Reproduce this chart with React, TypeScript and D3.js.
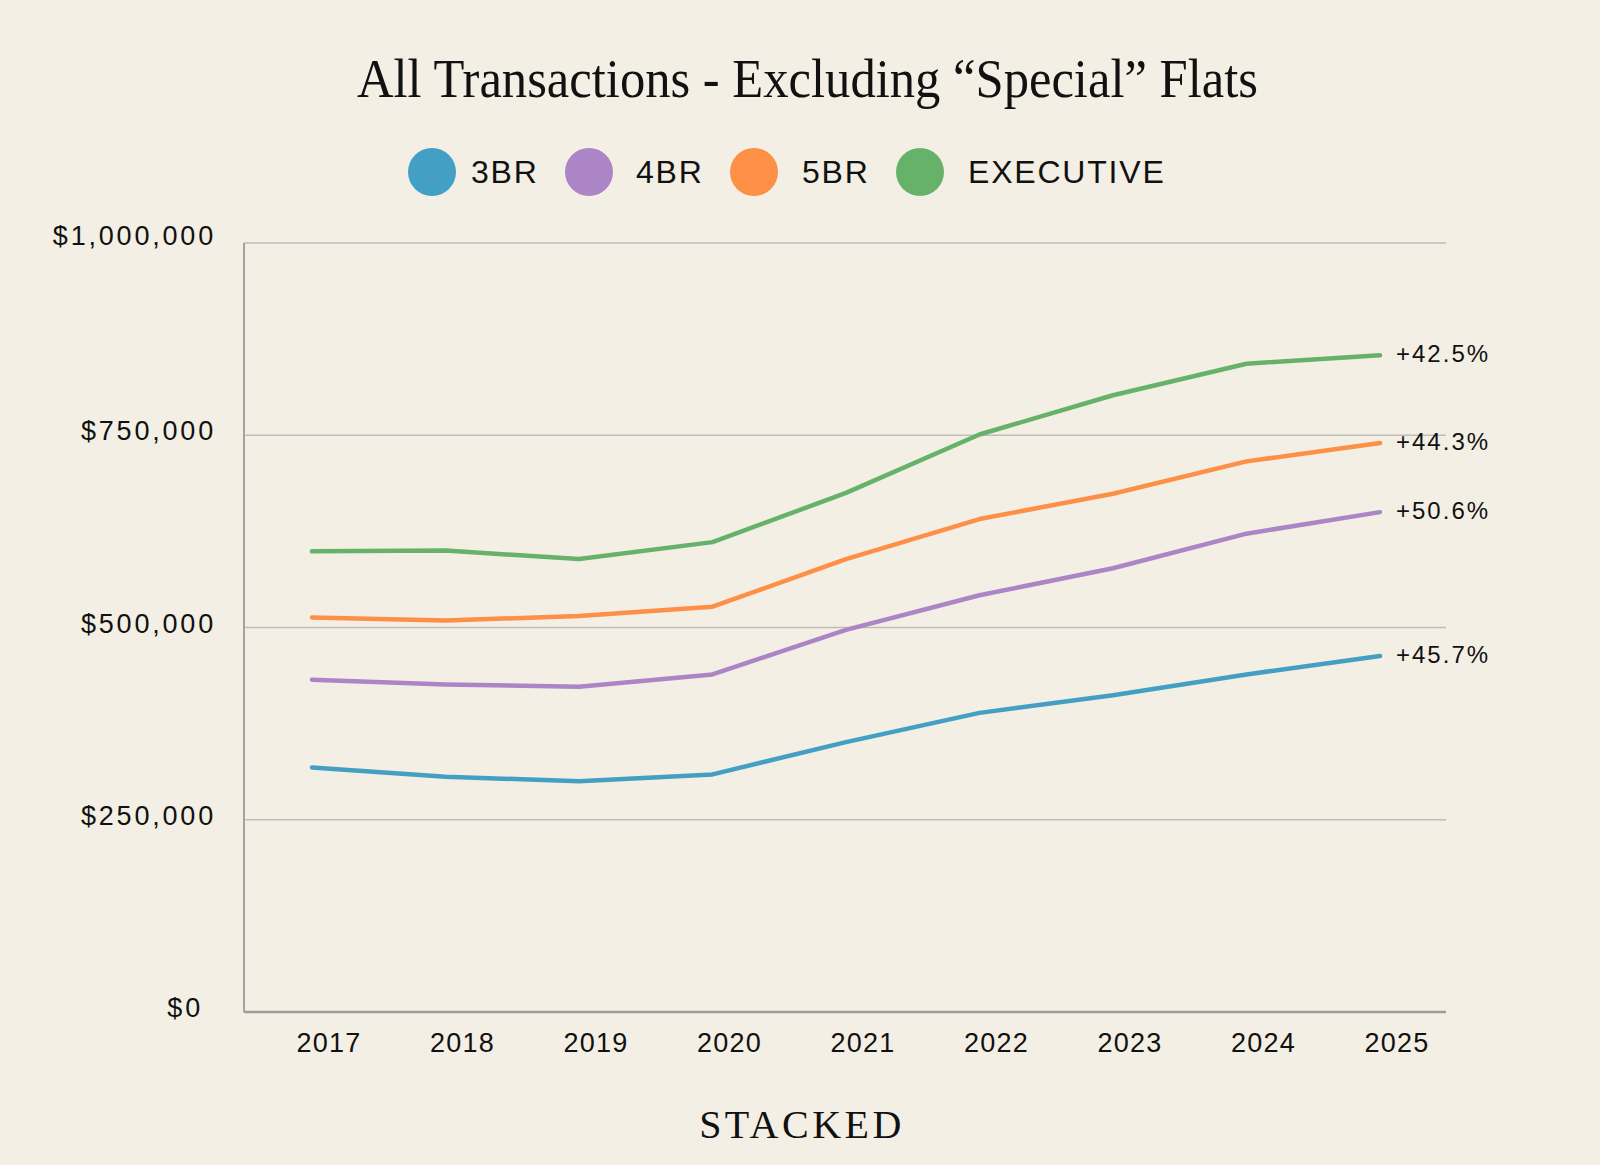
import React from "react";
import * as d3 from "d3";

const years = ["2017", "2018", "2019", "2020", "2021", "2022", "2023", "2024", "2025"];
const series3BR = [318000, 306000, 300000, 309000, 351000, 389000, 412000, 439000, 463000];
const series4BR = [432000, 426000, 423000, 439000, 497000, 542000, 577000, 622000, 650000];
const series5BR = [513000, 509000, 515000, 527000, 589000, 641000, 674000, 716000, 740000];
const seriesExec = [599000, 600000, 589000, 611000, 675000, 751000, 802000, 843000, 854000];
const seriesNames = ["3BR", "4BR", "5BR", "EXECUTIVE"];
const changeLabels = ["+45.7%", "+50.6%", "+44.3%", "+42.5%"];
const yTicks = [0, 250000, 500000, 750000, 1000000];
const colors = ["#43A0C4", "#AB85C5", "#FD8F47", "#66B26A"];

const W = 1600;
const H = 1165;
const left = 244;
const right = 1446;
const top = 243;
const bottom = 1012;
const legendCircleX = [432, 589, 754, 920];
const legendTextX = [471, 636, 802, 968];

export default function App() {
  const allSeries = [series3BR, series4BR, series5BR, seriesExec];
  const x = d3.scalePoint<string>().domain(years).range([312, 1380]);
  const y = d3.scaleLinear().domain([0, 1000000]).range([bottom, top]);
  const line = d3
    .line<number>()
    .x((_, i) => x(years[i]) as number)
    .y((d) => y(d));
  const fmt = (v: number) => "$" + d3.format(",")(v);
  const sans = "'Liberation Sans', Arial, sans-serif";
  const serif = "'Liberation Serif', 'DejaVu Serif', serif";

  return (
    <div style={{ position: "absolute", left: 0, top: 0 }}>
      <svg width={W} height={H} viewBox={`0 0 ${W} ${H}`} style={{ display: "block" }}>
        <rect x={0} y={0} width={W} height={H} fill="#F4EFE4" />
        <text
          x={357}
          y={97}
          fontFamily={serif}
          fontSize={55}
          fill="#111"
          textLength={901}
          lengthAdjust="spacingAndGlyphs"
        >
          All Transactions - Excluding “Special” Flats
        </text>
        {seriesNames.map((n, i) => (
          <g key={n}>
            <circle cx={legendCircleX[i]} cy={172} r={24} fill={colors[i]} />
            <text
              x={legendTextX[i]}
              y={183}
              fontFamily={sans}
              fontSize={32}
              letterSpacing={1.8}
              fill="#111"
            >
              {n}
            </text>
          </g>
        ))}
        {yTicks.map((t) => (
          <g key={t}>
            {t > 0 && (
              <line x1={left} x2={right} y1={y(t)} y2={y(t)} stroke="#BDBDBA" strokeWidth={1.5} />
            )}
            <text
              x={t === 0 ? 203 : 216}
              y={y(t) + (t === 1000000 ? 2 : 5)}
              textAnchor="end"
              fontFamily={sans}
              fontSize={27}
              letterSpacing={2.8}
              fill="#111"
            >
              {fmt(t)}
            </text>
          </g>
        ))}
        <line x1={left} x2={left} y1={top} y2={bottom} stroke="#A3A3A0" strokeWidth={2} />
        <line x1={left} x2={right} y1={bottom} y2={bottom} stroke="#9C9C99" strokeWidth={2.5} />
        {years.map((yr) => (
          <text
            key={yr}
            x={(x(yr) as number) + 17}
            y={1052}
            textAnchor="middle"
            fontFamily={sans}
            fontSize={27}
            letterSpacing={1.2}
            fill="#111"
          >
            {yr}
          </text>
        ))}
        {allSeries.map((s, i) => (
          <path
            key={i}
            d={line(s) as string}
            fill="none"
            stroke={colors[i]}
            strokeWidth={4.5}
            strokeLinecap="round"
            strokeLinejoin="round"
          />
        ))}
        {allSeries.map((s, i) => (
          <text
            key={"l" + i}
            x={(x(years[years.length - 1]) as number) + 16}
            y={y(s[s.length - 1]) + 7}
            fontFamily={sans}
            fontSize={24}
            letterSpacing={2}
            fill="#111"
          >
            {changeLabels[i]}
          </text>
        ))}
        <text
          x={802}
          y={1138}
          textAnchor="middle"
          fontFamily={serif}
          fontSize={40}
          letterSpacing={3.5}
          fill="#111"
        >
          STACKED
        </text>
      </svg>
    </div>
  );
}
